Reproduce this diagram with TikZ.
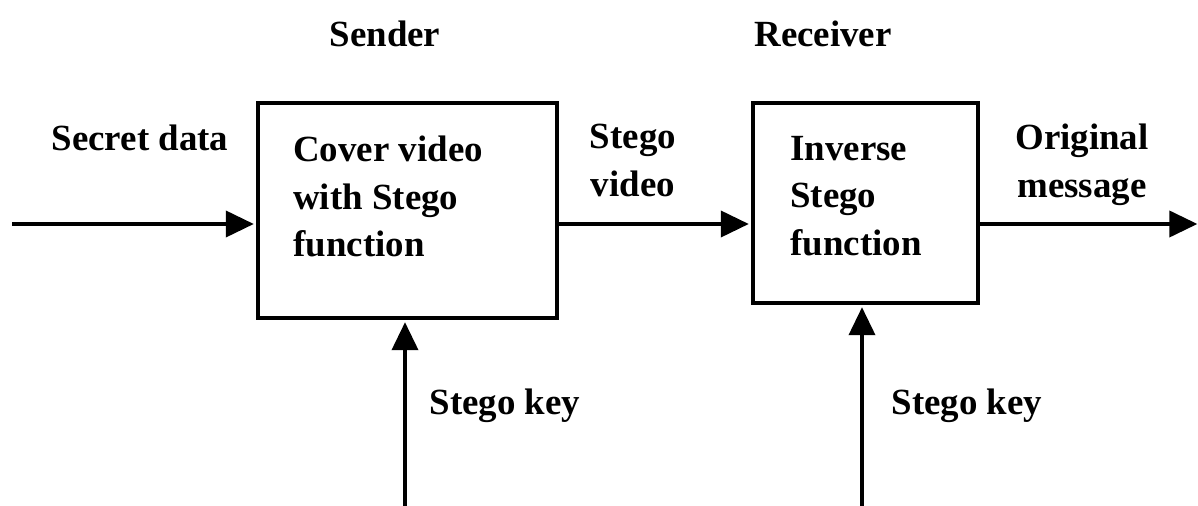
\documentclass[tikz,border=0pt]{standalone}
\usepackage{fontspec}
\setmainfont{Liberation Serif}
\usetikzlibrary{arrows.meta}

\tikzset{
  stegobox/.style={draw, line width=1.8pt, inner sep=0pt},
  lbl/.style={inner sep=0pt, font=\fontsize{21}{27}\selectfont\bfseries},
  flow/.style={line width=2.2pt, -{Triangle[length=0.56cm,width=0.52cm]}, shorten >=1.5pt}
}

\begin{document}
\begin{tikzpicture}[x=0.02cm,y=-0.02cm]
\useasboundingbox (0,0) rectangle (1198,506);
% boxes
\node[stegobox, minimum width=5.98cm, minimum height=4.3cm] (S) at (407.5,210.5) {};
\node[stegobox, minimum width=4.5cm, minimum height=4cm] (R) at (865.5,203) {};
\node[lbl, anchor=north west, align=left] (Stxt) at (293,136) {Cover video\\with Stego\\function};
\node[lbl, anchor=north west, align=left] (Rtxt) at (790,136) {Inverse\\Stego\\function};
% titles
\node[lbl, anchor=base] (sender) at (385,47) {Sender};
\node[lbl, anchor=base] (receiver) at (823,47) {Receiver};
% free ends
\coordinate (in) at (12,224);
\coordinate (out) at (1200,224);
\coordinate (k1) at (405,506);
\coordinate (k2) at (862,506);
% connectors
\draw[flow] (in) -- (S.west |- in);
\draw[flow] (S.east |- in) -- (R.west |- in);
\draw[flow] (R.east |- in) -- (out);
\draw[flow] (k1) -- (k1 |- S.south);
\draw[flow] (k2) -- (k2 |- R.south);
% labels
\node[lbl, anchor=base] (secret) at (140,151) {Secret data};
\node[lbl, anchor=north, align=center] (stegovid) at (633,124) {Stego\\video};
\node[lbl, anchor=north, align=center] (orig) at (1082,124) {Original\\message};
\node[lbl, anchor=base] (key1) at (505,415) {Stego key};
\node[lbl, anchor=base] (key2) at (967,415) {Stego key};
\end{tikzpicture}
\end{document}
